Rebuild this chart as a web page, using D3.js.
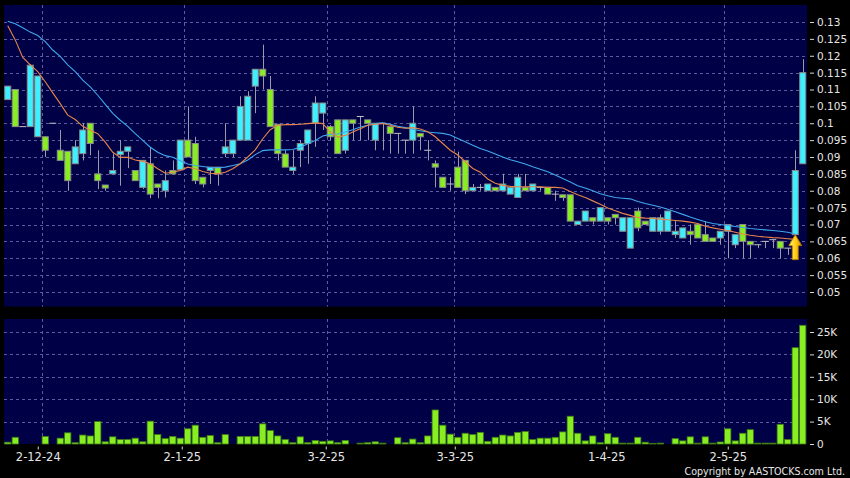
<!DOCTYPE html>
<html><head><meta charset="utf-8">
<script src="https://cdn.jsdelivr.net/npm/d3@7"></script>
<style>body{margin:0;background:#000}svg{display:block}</style>
</head><body>
<svg id="chart" width="850" height="478"></svg>
<script>
// ---------------- DATA ----------------
const opens  = [.107,.110,.099,.099,.096,.096,.100,.092,.0917,.088,.091,.100,.085,.0817,.085,.0907,.0917,.086,.081,.088,
                .082,.080,.086,.0862,.095,.094,.084,.086,.087,.091,.091,.095,.095,.111,.116,.110,.0997,.0909,.086,.092,
                .094,.100,.103,.099,.101,.092,.101,.102,.101,.095,.100,.099,.097,.095,.095,.097,.092,.088,.084,.082,
                .087,.089,.080,.081,.080,.081,.080,.079,.078,.081,.080,.081,.081,.079,.0788,.0788,.070,.071,.072,.071,
                .072,.073,.068,.063,.074,.071,.068,.068,.068,.067,.066,.068,.070,.067,.066,.066,.068,.064,.070,.065,
                .064,.065,.0655,.065,.063,.067,.088];
const highs  = [.111,.110,.099,.1175,.114,.096,.100,.098,.0917,.095,.100,.100,.092,.0817,.091,.095,.093,.086,.089,.093,
                .082,.086,.089,.095,.105,.096,.084,.087,.087,.100,.095,.108,.1095,.116,.1233,.114,.0997,.092,.092,.095,
                .098,.108,.106,.0995,.101,.101,.101,.102,.101,.100,.100,.099,.097,.095,.105,.097,.095,.089,.084,.084,
                .0916,.089,.082,.082,.082,.081,.085,.081,.085,.085,.082,.081,.081,.080,.0788,.0788,.071,.074,.072,.075,
                .072,.073,.072,.072,.075,.071,.072,.073,.074,.071,.069,.070,.070,.071,.066,.068,.070,.067,.070,.065,
                .064,.065,.0655,.065,.063,.092,.119];
const lows   = [.107,.099,.099,.099,.096,.090,.100,.089,.080,.088,.089,.0905,.0805,.080,.085,.0815,.0867,.083,.0805,.0778,
                .0778,.078,.085,.0862,.090,.082,.081,.082,.0815,.090,.090,.095,.095,.103,.110,.099,.089,.087,.085,.087,
                .088,.093,.098,.095,.091,.091,.095,.095,.095,.092,.092,.091,.091,.091,.091,.092,.089,.081,.081,.080,
                .081,.079,.080,.080,.080,.080,.080,.079,.078,.080,.080,.080,.079,.077,.077,.071,.070,.071,.070,.071,
                .070,.070,.068,.063,.068,.070,.068,.067,.068,.066,.066,.064,.066,.065,.065,.064,.060,.063,.060,.060,
                .063,.063,.063,.060,.061,.067,.088];
const closes = [.111,.099,.099,.1172,.114,.092,.100,.089,.083,.093,.098,.094,.083,.0808,.086,.0917,.093,.083,.089,.079,
                .081,.083,.085,.095,.090,.083,.082,.087,.085,.093,.095,.105,.108,.116,.114,.099,.091,.087,.087,.094,
                .098,.106,.106,.096,.091,.101,.100,.102,.100,.100,.100,.097,.097,.095,.100,.096,.092,.087,.081,.082,
                .081,.080,.081,.081,.082,.080,.082,.081,.084,.080,.082,.081,.079,.079,.078,.071,.071,.074,.071,.075,
                .071,.072,.072,.072,.069,.070,.072,.072,.074,.068,.069,.067,.066,.065,.065,.068,.070,.067,.065,.064,
                .064,.065,.0655,.063,.063,.086,.115];
const volumesK = [0.4,1.5,0,0,0,1.7,0,1.3,2.5,0.3,2.0,1.8,5.0,0.5,1.6,1.0,1.0,1.3,0.5,5.1,
                  2.1,1.2,1.7,1.3,3.4,4.2,1.5,1.9,0.3,2.1,0,1.7,1.7,1.7,4.5,3.0,1.8,1.0,0.3,1.6,
                  0.3,0.8,0.6,0.7,0.3,0.8,0,0.2,0.3,0.5,0.2,0,1.4,0.3,1.1,0.3,1.8,7.6,4.2,2.2,
                  1.5,2.4,2.1,2.6,0.6,1.5,2.0,1.8,2.6,2.8,1.0,1.3,1.3,1.5,2.7,6.2,2.4,0.7,1.8,0.3,
                  2.3,1.5,0.2,0.2,1.5,0.4,0.1,0.2,0,1.2,0.7,1.6,0.2,1.6,0.2,0.45,3.4,0.7,2.4,3.2,
                  0.2,0.2,0.2,4.4,1.0,21.5,26.5];
const maShort = [.1289,.1247,.1195,.1173,.1153,.1123,.109,.1058,.1024,.1011,.0991,.0979,.0969,.0944,.0914,.0899,.0899,.0891,.0887,.088,
                 .0865,.0852,.0855,.086,.087,.0865,.0857,.0852,.085,.0855,.0865,.088,.09,.0921,.0954,.0981,.0994,.0996,.0996,.0997,
                 .0999,.1001,.0999,.0974,.0959,.0964,.0974,.0984,.0994,.0997,.0999,.0994,.0988,.0985,.0987,.0983,.0975,.096,.094,.092,
                 .0906,.0886,.0866,.0855,.0835,.0822,.0816,.0813,.0812,.0812,.0812,.0812,.081,.081,.0808,.0798,.0788,.078,.077,.076,
                 .0749,.0741,.0733,.0727,.0721,.0719,.0718,.0716,.0714,.0712,.071,.0707,.0703,.0695,.069,.0686,.0682,.0677,.0672,.0668,
                 .0665,.0663,.0661,.066,.0658,.0656];
const maLong  = [.1302,.1295,.1283,.127,.126,.1242,.1217,.1198,.1173,.1153,.1128,.1108,.1083,.1056,.1029,.1009,.0991,.0969,.0949,.0929,
                 .0914,.0904,.0899,.0889,.0879,.0875,.0872,.0869,.0868,.087,.0875,.088,.0891,.0907,.0919,.0921,.0921,.0921,.0922,.0929,
                 .0939,.0949,.0962,.0967,.0968,.0974,.0981,.0989,.0994,.0999,.1001,.0997,.0991,.0987,.0982,.0978,.0974,.0972,.097,.0965,
                 .0955,.0945,.0935,.0925,.0918,.0909,.09,.0892,.0886,.0879,.0871,.0864,.0856,.0847,.0836,.0826,.0815,.0808,.08,.0791,
                 .0785,.078,.0778,.0776,.0768,.0762,.0757,.0752,.0745,.0738,.073,.0722,.0715,.0708,.0703,.07,.0697,.0694,.0691,.0688,
                 .0686,.0684,.0682,.068,.0677,.0672];
const priceTicks = [0.05,0.055,0.06,0.065,0.07,0.075,0.08,0.085,0.09,0.095,0.1,0.105,0.11,0.115,0.12,0.125,0.13];
const volumeTicks = [0,5,10,15,20,25];
const dateLabels = ["2-12-24","2-1-25","3-2-25","3-3-25","1-4-25","2-5-25"];
const dateTickIndex = [4,23.2,42.4,59.6,79.8,96];
const dateGridIndex = [4.5,23.5,42.5,59.5,79.5,95.5];
const signalIndex = 105;

// ---------------- CHART ----------------
const N = closes.length;
const candles = d3.range(N).map(i => ({i, o:opens[i], h:highs[i], l:lows[i], c:closes[i], v:volumesK[i]}));
const svg = d3.select("#chart");
const FONT = "'DejaVu Sans', Verdana, sans-serif";
const NAVY = "#000046", GRID = "#5c5c9c", CYAN = "#3cf0ff", GREEN = "#88ee22";

const left = 4, right = 807;
const mainTop = 5, mainBottom = 306.5;
const volTop = 319, volBottom = 444;

const x = d3.scaleLinear().domain([-0.5, N - 0.5]).range([left, left + N * 7.5]);
const y = d3.scaleLinear().domain([0.05, 0.13]).range([292, 22]);
const yv = d3.scaleLinear().domain([0, 25]).range([volBottom, 332]);
const step = x(1) - x(0);

svg.append("rect").attr("width", 850).attr("height", 478).attr("fill", "#000");

const defs = svg.append("defs");
defs.append("clipPath").attr("id", "clipMain").append("rect")
  .attr("x", left).attr("y", mainTop).attr("width", right - left).attr("height", mainBottom - mainTop);
const grad = defs.append("linearGradient").attr("id", "arrowGrad").attr("x1", 0).attr("x2", 1).attr("y1", 0).attr("y2", 0);
grad.append("stop").attr("offset", "0%").attr("stop-color", "#fff27a");
grad.append("stop").attr("offset", "55%").attr("stop-color", "#ffcc10");
grad.append("stop").attr("offset", "100%").attr("stop-color", "#d88a00");

// panels
svg.append("rect").attr("x", left).attr("y", mainTop).attr("width", right - left).attr("height", mainBottom - mainTop).attr("fill", NAVY);
svg.append("rect").attr("x", left).attr("y", volTop).attr("width", right - left).attr("height", volBottom - volTop).attr("fill", NAVY);

// grid lines
const gMainGrid = svg.append("g").attr("stroke", GRID).attr("stroke-width", 1).attr("stroke-dasharray", "3,3");
gMainGrid.selectAll("line.h").data(priceTicks).join("line")
  .attr("x1", left).attr("x2", right).attr("y1", d => Math.round(y(d)) + 0.5).attr("y2", d => Math.round(y(d)) + 0.5);
gMainGrid.selectAll("line.v").data(dateGridIndex).join("line")
  .attr("x1", d => Math.round(x(d)) + 0.5).attr("x2", d => Math.round(x(d)) + 0.5).attr("y1", mainTop).attr("y2", mainBottom);
const gVolGrid = svg.append("g").attr("stroke", GRID).attr("stroke-width", 1).attr("stroke-dasharray", "3,3");
gVolGrid.selectAll("line.h").data(volumeTicks.filter(d => d > 0)).join("line")
  .attr("x1", left).attr("x2", right).attr("y1", d => Math.round(yv(d)) + 0.5).attr("y2", d => Math.round(yv(d)) + 0.5);
gVolGrid.selectAll("line.v").data(dateGridIndex).join("line")
  .attr("x1", d => Math.round(x(d)) + 0.5).attr("x2", d => Math.round(x(d)) + 0.5).attr("y1", volTop).attr("y2", volBottom);

// candles
const gC = svg.append("g").attr("clip-path", "url(#clipMain)");
const bw = step * 0.8;
gC.selectAll("line.wick").data(candles).join("line")
  .attr("x1", d => Math.round(x(d.i)) + 0.5).attr("x2", d => Math.round(x(d.i)) + 0.5)
  .attr("y1", d => y(d.h)).attr("y2", d => y(d.l))
  .attr("stroke", "#9a9aa8").attr("stroke-width", 1);
gC.selectAll("rect.body").data(candles).join("rect")
  .attr("x", d => x(d.i) - bw / 2).attr("width", bw)
  .attr("y", d => y(Math.max(d.o, d.c)))
  .attr("height", d => Math.max(0.01, Math.abs(y(d.o) - y(d.c))))
  .attr("fill", d => d.c > d.o ? CYAN : d.c < d.o ? GREEN : "#b0b0b8")
  .attr("stroke", d => d.c === d.o ? "#c0c0c8" : "#8a8a8a").attr("stroke-width", 1);

// moving averages
const lineGen = d3.line().x((d, i) => x(i)).y(d => y(d));
gC.append("path").datum(maLong).attr("d", lineGen).attr("fill", "none").attr("stroke", "#3ea8ee").attr("stroke-width", 1.1);
gC.append("path").datum(maShort).attr("d", lineGen).attr("fill", "none").attr("stroke", "#e8844a").attr("stroke-width", 1.1);

// signal arrow
const ax = x(signalIndex), ay = y(opens[signalIndex]);
svg.append("path")
  .attr("d", `M${ax},${ay} L${ax + 6.5},${ay + 11} L${ax + 3},${ay + 11} L${ax + 3},${ay + 25} L${ax - 3},${ay + 25} L${ax - 3},${ay + 11} L${ax - 6.5},${ay + 11} Z`)
  .attr("fill", "url(#arrowGrad)").attr("stroke", "#b87400").attr("stroke-width", 0.8);

// volume bars
svg.append("g").selectAll("rect").data(candles).join("rect")
  .attr("x", d => x(d.i) - step * 0.42).attr("width", step * 0.84)
  .attr("y", d => yv(d.v)).attr("height", d => volBottom - yv(d.v))
  .attr("fill", GREEN).attr("stroke", "#3d7a16").attr("stroke-width", 0.8);

// axes
function styleAxis(g) {
  g.select(".domain").remove();
  g.selectAll("line").attr("stroke", "#d8d8d8");
  g.selectAll("text").attr("fill", "#e6e6e6").attr("font-family", FONT).attr("font-size", 10.5);
}
svg.append("g").attr("transform", `translate(810,0)`)
  .call(d3.axisRight(y).tickValues(priceTicks).tickSize(4).tickPadding(3).tickFormat(d => String(+d.toFixed(3))))
  .call(styleAxis);
svg.append("g").attr("transform", `translate(810,0)`)
  .call(d3.axisRight(yv).tickValues(volumeTicks).tickSize(4).tickPadding(3).tickFormat(d => d === 0 ? "0" : d + "K"))
  .call(styleAxis);
const xa = svg.append("g").attr("transform", `translate(0,${volBottom + 2.5})`)
  .call(d3.axisBottom(x).tickValues(dateTickIndex).tickSize(3).tickPadding(3).tickFormat((d, i) => dateLabels[i]))
  .call(styleAxis);
xa.selectAll("text").attr("font-size", 11.5);

svg.append("text").attr("x", 845).attr("y", 475).attr("text-anchor", "end")
  .attr("fill", "#e6e6e6").attr("font-family", FONT).attr("font-size", 10.6)
  .style("font-stretch", "condensed")
  .text("Copyright by AASTOCKS.com Ltd.");
</script>
</body></html>
